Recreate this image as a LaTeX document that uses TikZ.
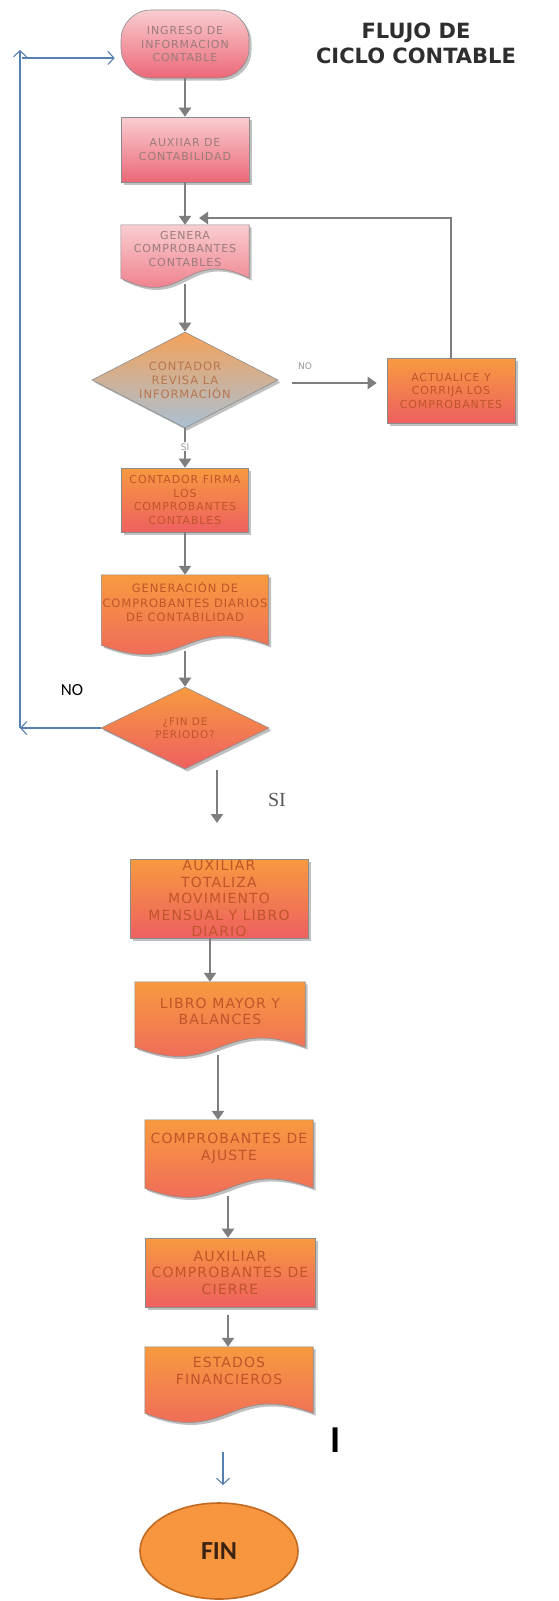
\documentclass[tikz,border=0pt]{standalone}
\usepackage{fontspec}
\setmainfont{DejaVu Sans}
\newfontfamily\boxfont[LetterSpace=8]{DejaVu Sans}
\newfontfamily\titlefont{DejaVu Sans}
\newfontfamily\calfont{Carlito}
\newfontfamily\serfont{Liberation Serif}
\usetikzlibrary{arrows.meta,shapes.geometric,shadows,calc}
\pgfdeclarelayer{bg}
\pgfsetlayers{bg,main}

\definecolor{pinktop}{HTML}{F9CDD0}
\definecolor{pinkbot}{HTML}{EC6878}
\definecolor{pinktext}{HTML}{9C7C7C}
\definecolor{orangetop}{HTML}{F79A40}
\definecolor{orangebot}{HTML}{EE6060}
\definecolor{orangetext}{HTML}{C0552A}
\definecolor{diamtop}{HTML}{F4A25A}
\definecolor{diammid}{HTML}{D9AE8E}
\definecolor{diambot}{HTML}{A9C0D4}
\definecolor{diamtext}{HTML}{B8764E}
\definecolor{boxline}{HTML}{8C8C8C}
\definecolor{flowgray}{HTML}{7E7E7E}
\definecolor{backblue}{HTML}{5680B0}
\definecolor{finfill}{HTML}{F7963F}
\definecolor{finline}{HTML}{C26A22}
\definecolor{fintext}{HTML}{3B2313}
\definecolor{titletext}{HTML}{2E2E2E}

\tikzset{
  shadowed/.style={drop shadow={shadow xshift=2.5pt,shadow yshift=-2.5pt,fill=black!70,opacity=0.35}},
  upperfont/.style={font=\boxfont\fontsize{11}{13.5}\selectfont},
  lowerfont/.style={font=\boxfont\fontsize{14}{16.5}\selectfont},
  pinkbox/.style={rectangle, draw=boxline, line width=0.6pt, top color=pinktop,
    bottom color=pinkbot, shadowed, upperfont, text=pinktext, align=center, inner sep=1pt},
  orangebox/.style={rectangle, draw=boxline, line width=0.6pt, top color=orangetop,
    bottom color=orangebot, shadowed, upperfont, text=orangetext, align=center, inner sep=1pt},
  lowbox/.style={orangebox, lowerfont, inner sep=0pt},
  docnode/.style={rectangle, align=center, inner sep=1pt},
  decision/.style={diamond, aspect=1.94, inner sep=0pt, draw=boxline, line width=0.6pt,
    shadowed, upperfont, align=center},
  flowarrow/.style={draw=flowgray, line width=2.8pt, -{Triangle[length=9pt,width=12pt]}},
  backarrow/.style={draw=backblue, line width=1.1pt, -{Straight Barb[length=6pt,width=13pt]}},
  smalllabel/.style={font=\fontsize{9}{10}\selectfont, text=flowgray!80, inner sep=1pt},
  titlestyle/.style={font=\titlefont\bfseries\fontsize{21}{25}\selectfont, text=titletext, align=center},
}

% document symbol: rectangle with a wavy lower edge, drawn behind the node text
\newcommand\drawdoc[3]{%
  \begin{pgfonlayer}{bg}
    \shade[shadowed, draw=boxline, line width=0.6pt, top color=#2, bottom color=#3]
      (#1.north west) -- (#1.north east) -- (#1.south east)
      .. controls ($(#1.south)+(0,-32)$) and ($(#1.south)+(0,32)$) .. (#1.south west) -- cycle;
  \end{pgfonlayer}}

\begin{document}
\begin{tikzpicture}[x=1pt,y=-1pt]
% white page, kept on the lowest layer so the document symbols stay visible
\begin{pgfonlayer}{bg}
  \fill[white] (0,0) rectangle (558,1601);
\end{pgfonlayer}
\useasboundingbox (0,0) rectangle (558,1601);

% title
\node[titlestyle] (title) at (416,43) {FLUJO DE\\CICLO CONTABLE};

% upper part of the cycle
\node[pinkbox, rounded corners=30pt, minimum width=128pt, minimum height=68pt]
  (ingreso) at (185,44) {INGRESO DE\\INFORMACION\\CONTABLE};
\node[pinkbox, minimum width=128pt, minimum height=65pt]
  (aux) at (185,149.5) {AUXIIAR DE\\CONTABILIDAD};
\node[docnode, upperfont, text=pinktext, minimum width=128pt, minimum height=53pt, text depth=6pt]
  (genera) at (185,251.5) {GENERA\\COMPROBANTES\\CONTABLES};
\drawdoc{genera}{pinktop}{pinkbot}

\node[decision, top color=diamtop, middle color=diammid, bottom color=diambot, text=diamtext,
  font=\boxfont\fontsize{11.5}{14}\selectfont, minimum width=186pt, minimum height=96pt]
  (revisa) at (185,380) {CONTADOR\\REVISA LA\\INFORMACIÓN};
\node[orangebox, minimum width=128pt, minimum height=65pt]
  (act) at (451,390.5) {ACTUALICE Y\\CORRIJA LOS\\COMPROBANTES};
\node[orangebox, minimum width=127pt, minimum height=64pt]
  (firma) at (185,500) {CONTADOR FIRMA\\LOS\\COMPROBANTES\\CONTABLES};
\node[docnode, font=\boxfont\fontsize{11.5}{14.5}\selectfont, text=orangetext,
  minimum width=164pt, minimum height=70pt, text depth=16pt]
  (gener) at (185,610) {GENERACIÓN DE\\COMPROBANTES DIARIOS\\DE CONTABILIDAD};
\drawdoc{gener}{orangetop}{orangebot}

\node[decision, top color=orangetop, bottom color=orangebot, text=orangetext,
  font=\boxfont\fontsize{10.5}{13}\selectfont, minimum width=168pt, minimum height=82pt]
  (periodo) at (185,728) {¿FIN DE\\PERIODO?};

% lower part of the cycle
\node[lowbox, minimum width=178pt, minimum height=79pt]
  (tot) at (219,898.5) {AUXILIAR\\TOTALIZA\\MOVIMIENTO\\MENSUAL Y LIBRO\\DIARIO};
\node[docnode, lowerfont, text=orangetext, minimum width=170pt, minimum height=65pt, text depth=6pt]
  (libro) at (220,1014.5) {LIBRO MAYOR Y\\BALANCES};
\drawdoc{libro}{orangetop}{orangebot}
\node[docnode, lowerfont, text=orangetext, minimum width=168pt, minimum height=68pt, text depth=14pt]
  (ajuste) at (229,1154) {COMPROBANTES DE\\AJUSTE};
\drawdoc{ajuste}{orangetop}{orangebot}
\node[lowbox, minimum width=170pt, minimum height=69pt]
  (cierre) at (230,1272.5) {AUXILIAR\\COMPROBANTES DE\\CIERRE};
\node[docnode, lowerfont, text=orangetext, minimum width=168pt, minimum height=66pt, text depth=18pt]
  (estados) at (229,1380) {ESTADOS\\FINANCIEROS};
\drawdoc{estados}{orangetop}{orangebot}

\node[ellipse, fill=finfill, draw=finline, line width=1.6pt, minimum width=158pt, minimum height=96pt,
  font=\calfont\bfseries\fontsize{26}{30}\selectfont, text=fintext]
  (fin) at (219,1551) {FIN};

% free ends of connectors
\coordinate (loopend) at (199,218);
\coordinate (bl) at (20,728);
\coordinate (tl) at (20,50);
\coordinate (ts) at (22,58);
\coordinate (s1) at (217,770);
\coordinate (s2) at (217,823);
\coordinate (f1) at (223,1452);
\coordinate (f2) at (223,1485);

% gray flow connectors
\draw[flowarrow] (ingreso.south) -- (aux.north);
\draw[flowarrow] (aux.south) -- (genera.north);
\draw[flowarrow] ([yshift=-6pt]genera.south) -- (revisa.north);
\draw[flowarrow] (revisa.south) -- node[pos=0.47, fill=white, smalllabel] {SI} (firma.north);
\draw[flowarrow] ($(revisa.east)+(14,3)$) -- node[pos=0.15, yshift=17pt, smalllabel] {NO}
  ($(revisa.east -| act.west)+(-10,3)$);
\draw[flowarrow] (act.north) |- (loopend);
\draw[flowarrow] (firma.south) -- (gener.north);
\draw[flowarrow] ([yshift=-6pt]gener.south) -- (periodo.north);
\draw[flowarrow] (s1) -- (s2);
\draw[flowarrow] ([xshift=-9pt]tot.south) -- ([xshift=-9pt]tot.south |- libro.north);
\draw[flowarrow] ([xshift=-2pt,yshift=-8pt]libro.south) -- ([xshift=-2pt]libro.south |- ajuste.north);
\draw[flowarrow] ([xshift=-1pt,yshift=-8pt]ajuste.south) -- ([xshift=-1pt]ajuste.south |- cierre.north);
\draw[flowarrow] ([xshift=-2pt,yshift=-8pt]cierre.south) -- ([xshift=-2pt]cierre.south |- estados.north);

% blue return path and final arrow
\draw[backarrow] (periodo.west) -- (bl);
\draw[backarrow] (bl) -- (tl);
\draw[backarrow, shorten >=6pt] (ts) -- (ts -| ingreso.west);
\draw[backarrow] (f1) -- (f2);

% loose labels
\node[font=\calfont\fontsize{17}{20}\selectfont, text=black] (nolabel) at (72,690) {NO};
\node[font=\serfont\fontsize{20}{24}\selectfont, text=black!65] (silabel) at (277,800) {SI};
\node[font=\calfont\bfseries\fontsize{38}{40}\selectfont, text=black] (cursor) at (336,1440) {I};
\end{tikzpicture}
\end{document}
